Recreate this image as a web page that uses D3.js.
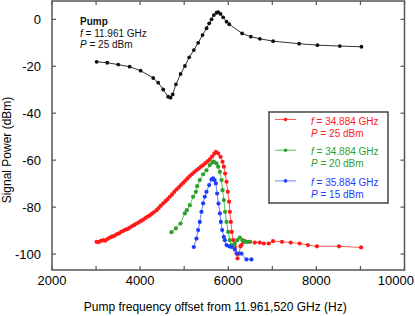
<!DOCTYPE html>
<html>
<head>
<meta charset="utf-8">
<script src="https://cdn.jsdelivr.net/npm/d3@7"></script>
<style>
  body { margin: 0; background: #fff; }
  svg { display: block; font-family: 'Liberation Sans', Arial, sans-serif; }
</style>
</head>
<body>
<script>
var width = 415;
var height = 316;
var margin = { top: 1, right: 10, bottom: 46, left: 52 };

// pump tone (black)
var pumpX = [3013, 3254, 3503, 3762, 4011, 4297, 4410, 4524, 4637, 4693, 4739, 4812, 4918, 5016, 5113, 5220, 5317, 5417, 5508, 5567, 5621, 5673, 5734, 5771, 5825, 5884, 5961, 6021, 6315, 6512, 6717, 7019, 7608, 8025, 8531, 9023];
var pumpY = [-18.1, -18.5, -19.3, -20.2, -21.9, -25, -27, -29.9, -33, -33.4, -32, -27.7, -23.3, -19.9, -16.2, -13.1, -10, -6.7, -3.8, -1.7, 0, 1.8, 2.8, 3, 2.3, 0.85, -1, -2.1, -6, -7.4, -8.3, -9.3, -10.4, -11, -11.4, -11.7];

// signal, f = 34.884 GHz, P = 25 dBm (red)
var redX = [3012, 3060, 3110, 3163, 3210, 3260, 3315, 3360, 3410, 3466, 3520, 3570, 3617, 3670, 3720, 3768, 3820, 3870, 3919, 3970, 4020, 4070, 4120, 4170, 4221, 4270, 4320, 4372, 4420, 4470, 4524, 4575, 4625, 4675, 4725, 4775, 4826, 4875, 4925, 4977, 5025, 5075, 5128, 5180, 5230, 5279, 5330, 5380, 5430, 5480, 5530, 5581, 5630, 5680, 5719, 5771, 5825, 5870, 5900, 5929, 5961, 5990, 6020, 6036, 6059, 6081, 6111, 6150, 6187, 6210, 6247, 6278, 6300, 6339, 6376, 6490, 6603, 6716, 6807, 6920, 7016, 7220, 7417, 7620, 7808, 8012, 8512, 9014];
var redY = [-94.8, -94.9, -94.4, -94.1, -94.3, -93.6, -93, -92.6, -92.3, -91.6, -91.2, -90.5, -90.1, -89.6, -89.3, -88.7, -88.1, -87.6, -87, -86.5, -85.9, -85.3, -84.7, -84.1, -83.5, -82.8, -82.1, -81.3, -80.4, -79.4, -78.4, -77.5, -76.6, -75.6, -74.6, -73.5, -72.5, -71.6, -70.6, -69.7, -68.7, -67.8, -66.8, -65.9, -65.1, -64.3, -63.6, -62.8, -62.1, -61.3, -60.5, -59.7, -58.5, -57.3, -56.5, -57.1, -58.6, -60.7, -62.8, -65.7, -69.2, -73.5, -77.7, -82, -86.3, -90.6, -94.1, -97, -99.8, -101.9, -99.8, -96.7, -96.2, -94.8, -94.5, -94.8, -95.1, -95.1, -95.5, -95.5, -94.5, -94.8, -95.1, -95.5, -96.2, -96.7, -96.7, -97.2];

// signal, f = 34.884 GHz, P = 20 dBm (green)
var greenX = [4712, 4810, 4916, 5014, 5060, 5128, 5203, 5264, 5294, 5354, 5430, 5506, 5581, 5640, 5672, 5733, 5771, 5810, 5848, 5870, 5900, 5929, 5961, 5998, 6036, 6074, 6111, 6150, 6202, 6263, 6323, 6376, 6430, 6490];
var greenY = [-90.7, -89.1, -87, -82.7, -81.3, -79.2, -75.6, -73.5, -71.1, -68.5, -66, -64.3, -62.1, -61, -60.6, -61.4, -62.8, -65, -68.5, -72.8, -77, -82, -86.3, -90.6, -94.1, -96.2, -97, -95.5, -94.1, -93, -94.1, -94.8, -94.8, -94.8];

// signal, f = 35.884 GHz, P = 15 dBm (blue)
var blueX = [5218, 5279, 5317, 5354, 5392, 5430, 5468, 5506, 5567, 5620, 5657, 5690, 5719, 5748, 5779, 5810, 5832, 5862, 5900, 5922, 5961, 6020, 6074, 6150, 6202, 6300, 6413, 6526];
var blueY = [-97, -93.4, -89.8, -86.3, -82, -78.4, -75.6, -73.5, -70.6, -68.2, -67.8, -68.5, -69.9, -74.2, -78.5, -82.7, -86.3, -89.8, -92.7, -94.1, -96.2, -96.7, -97, -98.1, -99.8, -99.8, -102.3, -102.3];

var xTicks = [2000, 3000, 4000, 5000, 6000, 7000, 8000, 9000, 10000];
var xLabels = [2000, 4000, 6000, 8000, 10000];
var yTicks = [0, -20, -40, -60, -80, -100];

var series = [
  { x: redX, y: redY, color: '#ff1a1a', line: '#ff5a5a', f: '34.884', p: '25' },
  { x: greenX, y: greenY, color: '#2ca02c', line: '#5cbf5c', f: '34.884', p: '20' },
  { x: blueX, y: blueY, color: '#1f3dff', line: '#6a80ff', f: '35.884', p: '15' }
];

var svg = d3.select('body')
  .append('svg')
  .attr('width', width)
  .attr('height', height);

var x = d3.scaleLinear()
  .domain([2000, 10000])
  .range([margin.left, width - margin.right - 0.5]);

var y = d3.scaleLinear()
  .domain([-106.8, 7.8])
  .range([height - margin.bottom, margin.top]);

var x0 = x.range()[0], x1 = x.range()[1];
var y0 = y.range()[0], y1 = y.range()[1];

// inward ticks on all four sides
var frame = svg.append('g').attr('stroke', '#555').attr('stroke-width', 1.2);
xTicks.forEach(function(t) {
  frame.append('line').attr('x1', x(t)).attr('x2', x(t)).attr('y1', y0).attr('y2', y0 - 4);
  frame.append('line').attr('x1', x(t)).attr('x2', x(t)).attr('y1', y1).attr('y2', y1 + 4);
});
yTicks.forEach(function(t) {
  frame.append('line').attr('x1', x0).attr('x2', x0 + 4).attr('y1', y(t)).attr('y2', y(t));
  frame.append('line').attr('x1', x1).attr('x2', x1 - 4).attr('y1', y(t)).attr('y2', y(t));
});
frame.append('rect')
  .attr('x', x0).attr('y', y1)
  .attr('width', x1 - x0).attr('height', y0 - y1)
  .attr('fill', 'none')
  .attr('stroke-width', 1.5);

// last label sits against the right edge, as in the original
svg.selectAll('text.xlab')
  .data(xLabels)
  .enter()
  .append('text')
  .attr('class', 'xlab')
  .attr('x', function(d) { return d === 10000 ? width - 1 : x(d); })
  .attr('y', 285)
  .attr('text-anchor', function(d) { return d === 10000 ? 'end' : 'middle'; })
  .attr('font-size', '13px')
  .text(function(d) { return d; });

svg.selectAll('text.ylab')
  .data(yTicks)
  .enter()
  .append('text')
  .attr('class', 'ylab')
  .attr('x', 41)
  .attr('y', function(d) { return y(d) + 4.5; })
  .attr('text-anchor', 'end')
  .attr('font-size', '13px')
  .text(function(d) { return d; });

svg.append('text')
  .attr('x', (x0 + x1) / 2 - 13)
  .attr('y', 311)
  .attr('text-anchor', 'middle')
  .attr('font-size', '12px')
  .text('Pump frequency offset from 11.961,520 GHz (Hz)');

svg.append('text')
  .attr('transform', 'translate(11,150) rotate(-90)')
  .attr('text-anchor', 'middle')
  .attr('font-size', '12px')
  .text('Signal Power (dBm)');

var line = d3.line()
  .x(function(d) { return x(d[0]); })
  .y(function(d) { return y(d[1]); });

function drawSeries(xs, ys, color, lineColor, r) {
  var pts = d3.zip(xs, ys);
  var g = svg.append('g');
  g.append('path')
    .datum(pts)
    .attr('d', line)
    .attr('fill', 'none')
    .attr('stroke', lineColor)
    .attr('stroke-width', 1);
  g.selectAll('circle')
    .data(pts)
    .enter()
    .append('circle')
    .attr('cx', function(d) { return x(d[0]); })
    .attr('cy', function(d) { return y(d[1]); })
    .attr('r', r)
    .attr('fill', color);
}

drawSeries(pumpX, pumpY, '#111', '#333', 1.9);
series.forEach(function(s) {
  drawSeries(s.x, s.y, s.color, s.line, 2.1);
});

// pump annotation
var ann = svg.append('text').attr('font-size', '10px').attr('fill', '#111');
ann.append('tspan').attr('x', 80).attr('y', 25).attr('font-weight', 'bold').text('Pump');
var a2 = svg.append('text').attr('x', 80).attr('y', 36.5).attr('font-size', '10px').attr('fill', '#111');
a2.append('tspan').attr('font-style', 'italic').text('f');
a2.append('tspan').text(' = 11.961 GHz');
var a3 = svg.append('text').attr('x', 80).attr('y', 48).attr('font-size', '10px').attr('fill', '#111');
a3.append('tspan').attr('font-style', 'italic').text('P');
a3.append('tspan').text(' = 25 dBm');

// legend
var legend = svg.append('g');
legend.append('rect')
  .attr('x', 269).attr('y', 112)
  .attr('width', 119).attr('height', 91)
  .attr('fill', '#fff')
  .attr('stroke', '#444')
  .attr('stroke-width', 1.5);

series.forEach(function(s, i) {
  var ly = 119.5 + i * 30.7;
  legend.append('line')
    .attr('x1', 275).attr('x2', 296)
    .attr('y1', ly).attr('y2', ly)
    .attr('stroke', s.line).attr('stroke-width', 1);
  legend.append('circle')
    .attr('cx', 285.5).attr('cy', ly).attr('r', 1.8).attr('fill', s.color);
  var t1 = legend.append('text').attr('x', 311).attr('y', ly + 5).attr('font-size', '10px').attr('fill', s.color);
  t1.append('tspan').attr('font-style', 'italic').text('f');
  t1.append('tspan').text(' = ' + s.f + ' GHz');
  var t2 = legend.append('text').attr('x', 311).attr('y', ly + 17).attr('font-size', '10px').attr('fill', s.color);
  t2.append('tspan').attr('font-style', 'italic').text('P');
  t2.append('tspan').text(' = ' + s.p + ' dBm');
});
</script>
</body>
</html>
